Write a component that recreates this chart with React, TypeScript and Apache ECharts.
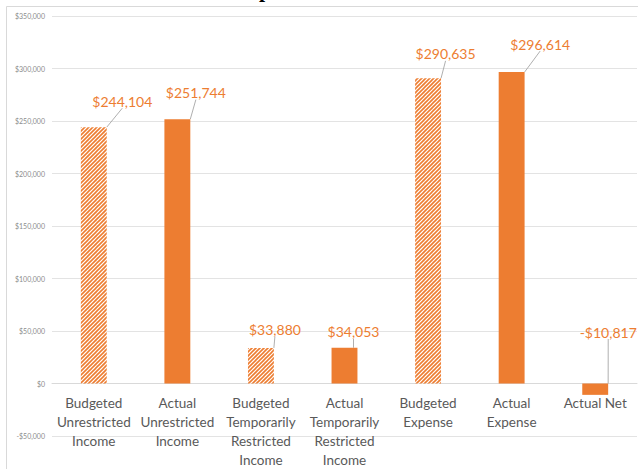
import React, { useEffect, useRef } from "react";
import * as echarts from "echarts";

const categories = [
  "Budgeted\nUnrestricted\nIncome",
  "Actual\nUnrestricted\nIncome",
  "Budgeted\nTemporarily\nRestricted\nIncome",
  "Actual\nTemporarily\nRestricted\nIncome",
  "Budgeted\nExpense",
  "Actual\nExpense",
  "Actual Net",
];
const values = [244104, 251744, 33880, 34053, 290635, 296614, -10817];
const isBudgeted = [true, false, true, false, true, false, false];

const yMin = -50000;
const yMax = 350000;
const yInterval = 50000;

// label callout offsets (px) from bar top-centre to label centre
const labelDx = [28.5, 18.5, 14, 9, 17.5, 28.5, 13];
const labelDy = [-26, -26.5, -18.5, -16, -24.5, -28, -51.5];

const ORANGE = "#ED7D31";

function money(v: number): string {
  const s = "$" + Math.abs(Math.round(v)).toLocaleString("en-US");
  return v < 0 ? "-" + s : s;
}

function hatchURL(): string {
  const c = document.createElement("canvas");
  const n = 8;
  c.width = n;
  c.height = n;
  const ctx = c.getContext("2d")!;
  ctx.fillStyle = "#ffffff";
  ctx.fillRect(0, 0, n, n);
  ctx.strokeStyle = ORANGE;
  ctx.lineWidth = 1.6;
  for (let k = -2; k <= 4; k++) {
    const c0 = k * 4;
    ctx.beginPath();
    ctx.moveTo(c0 - 4, n + 4);
    ctx.lineTo(c0 + n + 4, -4);
    ctx.stroke();
  }
  return c.toDataURL();
}

export default function App() {
  const ref = useRef<HTMLDivElement>(null);
  useEffect(() => {
    if (!ref.current) return;
    const chart = echarts.init(ref.current, undefined, { renderer: "svg" });
    const hatch = { image: hatchURL(), repeat: "repeat" };
    const data = values.map((v, i) => ({
      value: v,
      itemStyle: { color: isBudgeted[i] ? (hatch as any) : ORANGE },
    }));
    chart.setOption({
      animation: false,
      backgroundColor: "#ffffff",
      textStyle: { fontFamily: "Lato, 'Noto Sans', sans-serif" },
      grid: {
        left: 52,
        right: 1,
        top: 16,
        bottom: 33,
        containLabel: false,
        outerBoundsMode: "none",
      },
      graphic: [
        {
          type: "rect",
          shape: { x: 6.5, y: 6.5, width: 700, height: 500 },
          style: { fill: "none", stroke: "#d9d9d9", lineWidth: 1 },
          silent: true,
          z: -10,
        },
        {
          type: "text",
          x: 259,
          y: 0,
          style: {
            text: "p",
            font: "bold 22px 'Liberation Serif', serif",
            fill: "#000000",
            verticalAlign: "bottom",
          },
          silent: true,
        },
      ],
      xAxis: {
        type: "category",
        data: categories,
        position: "bottom",
        offset: -52.5,
        axisLine: { show: true, onZero: false, lineStyle: { color: "#d9d9d9", width: 1 } },
        axisTick: { show: false },
        axisLabel: {
          interval: 0,
          color: "#595959",
          fontSize: 13.5,
          lineHeight: 19,
          margin: 10,
          fontFamily: "Lato, sans-serif",
        },
      },
      yAxis: {
        type: "value",
        min: yMin,
        max: yMax,
        interval: yInterval,
        axisLine: { show: false },
        axisTick: { show: false },
        splitLine: { lineStyle: { color: "#e3e3e3", width: 1 } },
        axisLabel: {
          fontSize: 7,
          color: "#8c8c8c",
          margin: 7,
          fontFamily: "Lato, sans-serif",
          formatter: (v: number) => money(v),
        },
      },
      series: [
        {
          type: "bar",
          data,
          barWidth: "31%",
          label: {
            show: true,
            position: "top",
            color: ORANGE,
            fontSize: 14,
            fontFamily: "Lato, sans-serif",
            formatter: (p: any) => money(p.value),
          },
          labelLine: {
            show: true,
            lineStyle: { color: "#a6a6a6", width: 0.9 },
          },
          labelLayout: (p: any) => {
            const r = p.rect;
            const top = Math.min(r.y, r.y + r.height);
            const cx = r.x + r.width / 2;
            return {
              x: cx + labelDx[p.dataIndex],
              y: top + labelDy[p.dataIndex],
              align: "center",
              verticalAlign: "middle",
            };
          },
        },
      ],
    });
    return () => chart.dispose();
  }, []);
  return (
    <div
      ref={ref}
      style={{ position: "fixed", left: 0, top: 0, width: 638, height: 469, background: "#fff" }}
    />
  );
}
